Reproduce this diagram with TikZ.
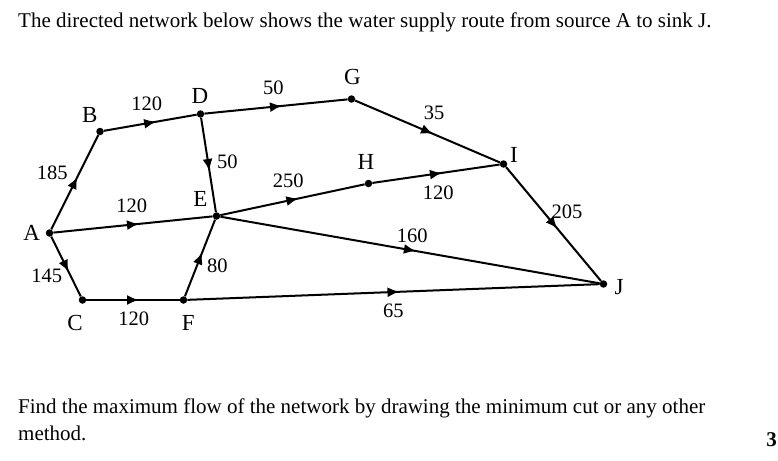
\documentclass[tikz,border=0pt]{standalone}
\usepackage{fontspec}
\setmainfont{Liberation Serif}
\usetikzlibrary{arrows.meta,decorations.markings}

\begin{document}
\begin{tikzpicture}[x=1pt,y={(0pt,-1pt)},
    vert/.style={circle,fill=black,inner sep=0pt,minimum size=7.5pt},
    vname/.style={inner sep=0pt,font=\fontsize{23}{25}\selectfont},
    capval/.style={inner sep=0pt,font=\fontsize{20.5}{22}\selectfont},
    flow/.style={line width=2pt,postaction={decorate},
      decoration={markings,mark=at position 0.5 with
        {\arrow[xshift=6pt]{Latex[length=12pt,width=10pt]}}}},
    txt/.style={inner sep=0pt,anchor=base west,font=\fontsize{21}{24}\selectfont}]
  \useasboundingbox (0,0) rectangle (778,460);
  % question
  \node[txt] (q1) at (18,27.3)
    {The directed network below shows the water supply route from source A to sink J.};
  % vertices
  \node[vert] (A) at (49.5,233) {};
  \node[vert] (B) at (100,131.5) {};
  \node[vert] (D) at (200.5,114) {};
  \node[vert] (G) at (351.5,99) {};
  \node[vert] (E) at (216.5,216) {};
  \node[vert] (H) at (368.5,183.5) {};
  \node[vert] (I) at (503.5,164) {};
  \node[vert] (J) at (603.5,284) {};
  \node[vert] (C) at (82.5,300) {};
  \node[vert] (F) at (183.5,300) {};
  % vertex names
  \node[vname] (nA) at (31.7,232.5) {A};
  \node[vname] (nB) at (89.7,114.7) {B};
  \node[vname] (nD) at (200,95.8) {D};
  \node[vname] (nG) at (352.3,77) {G};
  \node[vname] (nE) at (200.3,199) {E};
  \node[vname] (nH) at (366,162) {H};
  \node[vname] (nI) at (514,155) {I};
  \node[vname] (nJ) at (619,287) {J};
  \node[vname] (nC) at (75,322.7) {C};
  \node[vname] (nF) at (188.3,323.3) {F};
  % arcs
  \draw[flow] (A) -- (B);
  \draw[flow] (B) -- (D);
  \draw[flow] (D) -- (G);
  \draw[flow] (G) -- (I);
  \draw[flow] (D) -- (E);
  \draw[flow] (A) -- (E);
  \draw[flow] (E) -- (H);
  \draw[flow] (H) -- (I);
  \draw[flow] (I) -- (J);
  \draw[flow] (E) -- (J);
  \draw[flow] (A) -- (C);
  \draw[flow] (C) -- (F);
  \draw[flow] (F) -- (E);
  \draw[flow] (F) -- (J);
  % capacities
  \node[capval] (cAB) at (52.3,172.7) {185};
  \node[capval] (cBD) at (146.7,103.7) {120};
  \node[capval] (cDE) at (227.3,162) {50};
  \node[capval] (cAE) at (131.7,205.3) {120};
  \node[capval] (cDG) at (273.3,87.5) {50};
  \node[capval] (cGI) at (434,113) {35};
  \node[capval] (cEH) at (288.3,181) {250};
  \node[capval] (cHI) at (438.3,193) {120};
  \node[capval] (cEJ) at (412.3,235.3) {160};
  \node[capval] (cIJ) at (567,211.7) {205};
  \node[capval] (cFJ) at (393.3,310.7) {65};
  \node[capval] (cAC) at (46.7,275.7) {145};
  \node[capval] (cFE) at (217.3,265.3) {80};
  \node[capval] (cCF) at (133.7,319) {120};
  % task
  \node[txt] (q2) at (18,413)
    {Find the maximum flow of the network by drawing the minimum cut or any other};
  \node[txt] (q3) at (18,440) {method.};
  \node[anchor=base east,inner sep=0pt,font=\bfseries\fontsize{21}{22}\selectfont]
    (mk) at (777,446.7) {3};
\end{tikzpicture}
\end{document}
